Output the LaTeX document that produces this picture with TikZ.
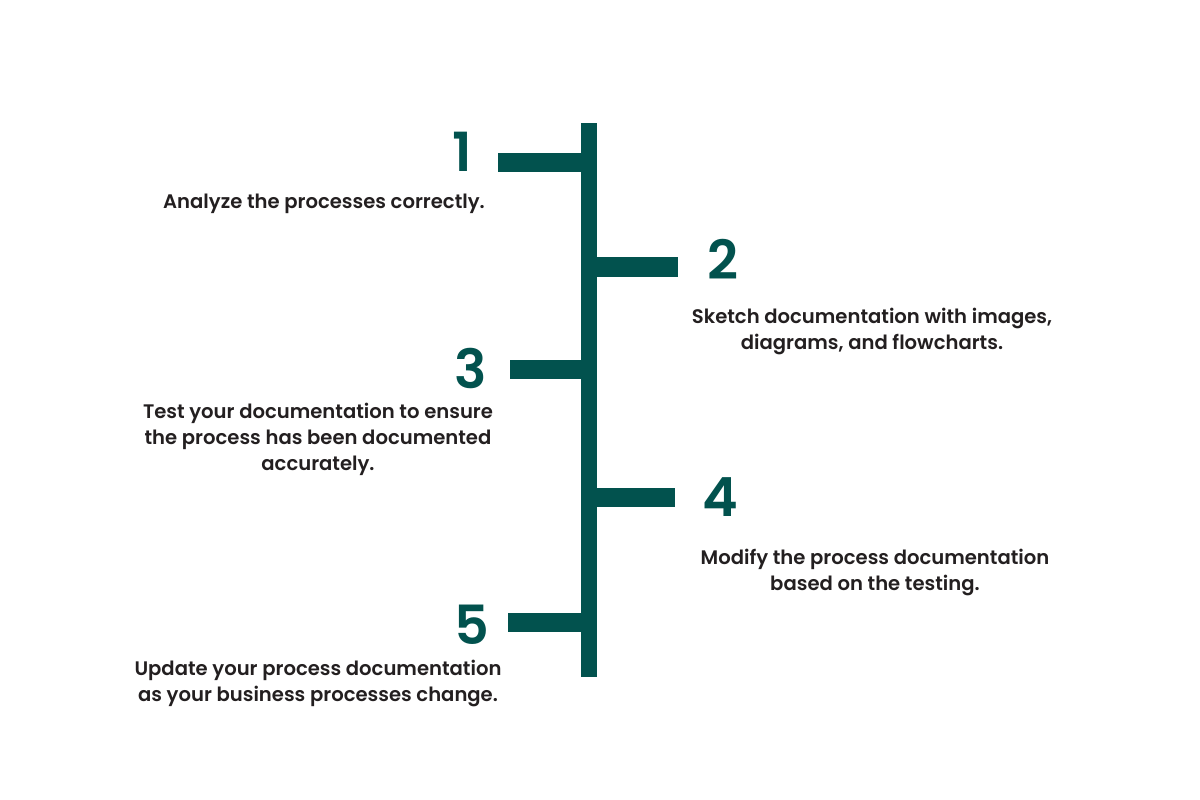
\documentclass[tikz,border=0pt]{standalone}
\usepackage{fontspec}
\setmainfont{Poppins}[UprightFont=*-Regular,BoldFont=*-SemiBold]
\definecolor{teal}{HTML}{02524E}
\definecolor{ink}{HTML}{231F20}
\begin{document}
\begin{tikzpicture}[x=1pt,y=-1pt,
  num/.style={text=teal,font=\fontsize{54}{54}\selectfont\bfseries,inner sep=0pt,anchor=center},
  desc/.style={text=ink,font=\fontsize{19.6}{26}\selectfont\bfseries,align=center,inner sep=0pt,anchor=center},
  barfill/.style={fill=teal,draw=none}]
\useasboundingbox (0,0) rectangle (1200,800);
% spine
\fill[barfill] (581,123) rectangle (597,677);
% branches
\fill[barfill] (498,153) rectangle (581,172);
\fill[barfill] (597,257) rectangle (678,277);
\fill[barfill] (510,360) rectangle (581,379);
\fill[barfill] (597,488) rectangle (675,507);
\fill[barfill] (508,613) rectangle (581,632);
% numbers
\node[num] (n1) at (462,152) {1};
\node[num] (n2) at (723,259) {2};
\node[num] (n3) at (471,368) {3};
\node[num] (n4) at (720,497) {4};
\node[num] (n5) at (472,625) {5};
% descriptions
\node[desc] (d1) at (324,204) {Analyze the processes correctly.};
\node[desc] (d2) at (872,331) {Sketch documentation with images,\\diagrams, and flowcharts.};
\node[desc] (d3) at (318,439) {Test your documentation to ensure\\the process has been documented\\accurately.};
\node[desc] (d4) at (875,572) {Modify the process documentation\\based on the testing.};
\node[desc] (d5) at (318,683) {Update your process documentation\\as your business processes change.};
\end{tikzpicture}
\end{document}
